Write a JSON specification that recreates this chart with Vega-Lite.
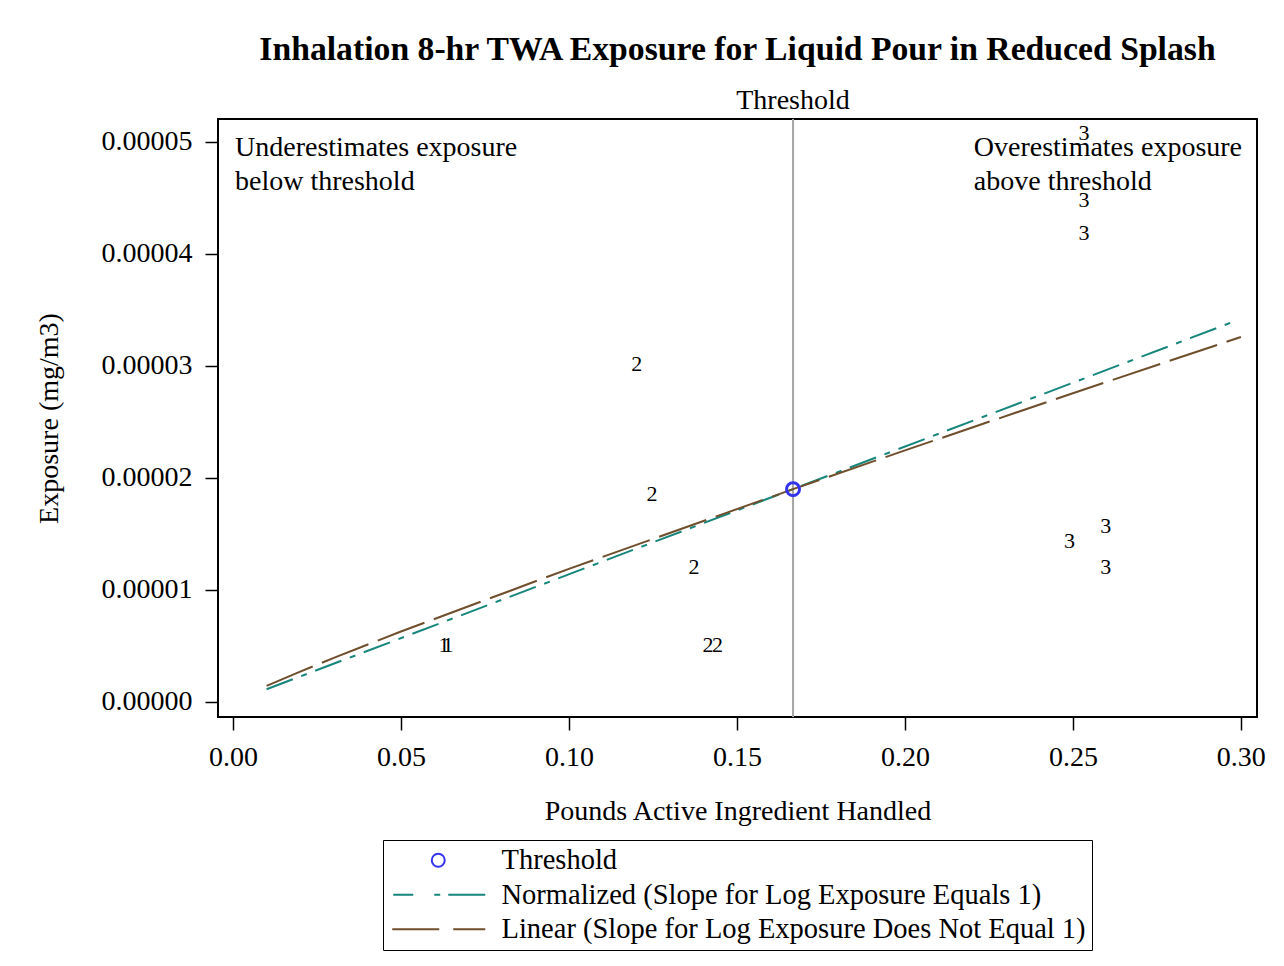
{
  "$schema": "https://vega.github.io/schema/vega-lite/v6.json",
  "width": 1039,
  "height": 598,
  "autosize": "none",
  "padding": {"left": 218, "top": 119, "right": 27, "bottom": 249},
  "background": "white",
  "title": {
    "text": "Inhalation 8-hr TWA Exposure for Liquid Pour in Reduced Splash",
    "font": "Liberation Serif",
    "fontSize": 33.7,
    "fontWeight": "bold",
    "color": "black",
    "frame": "group",
    "anchor": "middle",
    "offset": 20
  },
  "config": {
    "font": "Liberation Serif",
    "view": {"stroke": "black", "strokeWidth": 2},
    "axis": {
      "labelFont": "Liberation Serif",
      "titleFont": "Liberation Serif",
      "labelFontSize": 28,
      "titleFontSize": 28,
      "titleFontWeight": "normal",
      "labelColor": "black",
      "titleColor": "black",
      "tickColor": "black",
      "tickSize": 13,
      "tickWidth": 1.5,
      "domain": false,
      "grid": false
    }
  },
  "datasets": {
    "labels": [
      {"x": 0.0628, "y": 0.00000509, "g": "1"},
      {"x": 0.0640, "y": 0.00000509, "g": "1"},
      {"x": 0.1202, "y": 0.00003018, "g": "2"},
      {"x": 0.1247, "y": 0.00001857, "g": "2"},
      {"x": 0.1372, "y": 0.00001205, "g": "2"},
      {"x": 0.1414, "y": 0.00000509, "g": "2"},
      {"x": 0.1442, "y": 0.00000509, "g": "2"},
      {"x": 0.2533, "y": 0.00005080, "g": "3"},
      {"x": 0.2533, "y": 0.00004480, "g": "3"},
      {"x": 0.2533, "y": 0.00004190, "g": "3"},
      {"x": 0.2490, "y": 0.00001440, "g": "3"},
      {"x": 0.2598, "y": 0.00001570, "g": "3"},
      {"x": 0.2598, "y": 0.00001205, "g": "3"}
    ],
    "normalized": [
      {"x": 0.01, "y": 0.00000114},
      {"x": 0.2982, "y": 0.0000340}
    ],
    "linear": [
      {"x": 0.01, "y": 0.00000144},
      {"x": 0.02, "y": 0.00000271},
      {"x": 0.03, "y": 0.00000394},
      {"x": 0.05, "y": 0.00000629},
      {"x": 0.10, "y": 0.00001189},
      {"x": 0.1667, "y": 0.0000190},
      {"x": 0.20, "y": 0.00002246},
      {"x": 0.25, "y": 0.00002757},
      {"x": 0.30, "y": 0.00003259}
    ],
    "threshold": [
      {"x": 0.1667, "y": 0.0000190, "series": "Threshold"}
    ],
    "legendItems": [
      {"x": -1, "y": 0.00001, "series": "Threshold"},
      {"x": -1, "y": 0.00001, "series": "Normalized (Slope for Log Exposure Equals 1)"},
      {"x": -1, "y": 0.00001, "series": "Linear (Slope for Log Exposure Does Not Equal 1)"}
    ],
    "notes": [
      {"x": 0.0006, "y": 0.00005071, "t": "Underestimates exposure\nbelow threshold"},
      {"x": 0.2205, "y": 0.00005071, "t": "Overestimates exposure\nabove threshold"}
    ],
    "thresholdLabel": [
      {"x": 0.1667, "y": 0.00005205, "t": "Threshold"}
    ]
  },
  "encoding": {
    "x": {
      "field": "x",
      "type": "quantitative",
      "scale": {"domain": [-0.00446, 0.3048], "nice": false, "zero": false},
      "axis": {
        "title": "Pounds Active Ingredient Handled",
        "values": [0, 0.05, 0.1, 0.15, 0.2, 0.25, 0.3],
        "format": ".2f",
        "labelPadding": 13,
        "titlePadding": 26
      }
    },
    "y": {
      "field": "y",
      "type": "quantitative",
      "scale": {"domain": [-0.00000134, 0.00005205], "nice": false, "zero": false},
      "axis": {
        "title": "Exposure (mg/m3)",
        "values": [0, 0.00001, 0.00002, 0.00003, 0.00004, 0.00005],
        "format": ".5f",
        "labelPadding": 13,
        "titlePadding": 38
      }
    }
  },
  "layer": [
    {
      "data": {"name": "threshold"},
      "mark": {"type": "rule", "color": "#a6a6a6", "strokeWidth": 2},
      "encoding": {"y": null}
    },
    {
      "data": {"name": "normalized"},
      "mark": {"type": "line", "color": "#16857b", "strokeWidth": 2, "strokeDash": [28, 9, 6, 9]},
      "encoding": {}
    },
    {
      "data": {"name": "linear"},
      "mark": {"type": "line", "color": "#6f4e2c", "strokeWidth": 2, "strokeDash": [50, 10]},
      "encoding": {}
    },
    {
      "data": {"name": "threshold"},
      "mark": {"type": "point", "shape": "circle", "size": 169, "filled": false, "color": "#3434ee", "strokeWidth": 3, "opacity": 1}
    },
    {
      "data": {"name": "labels"},
      "mark": {"type": "text", "font": "Liberation Serif", "fontSize": 22, "color": "black", "baseline": "middle", "align": "center"},
      "encoding": {"text": {"field": "g"}}
    },
    {
      "data": {"name": "notes"},
      "mark": {"type": "text", "font": "Liberation Serif", "fontSize": 28, "color": "black", "align": "left", "baseline": "top", "lineBreak": "\n", "lineHeight": 34},
      "encoding": {"text": {"field": "t"}}
    },
    {
      "data": {"name": "thresholdLabel"},
      "mark": {"type": "text", "font": "Liberation Serif", "fontSize": 28, "color": "black", "align": "center", "baseline": "alphabetic", "dy": -10, "clip": false},
      "encoding": {"text": {"field": "t"}}
    },
    {
      "data": {"name": "legendItems"},
      "mark": {"type": "point", "filled": false, "clip": true, "strokeWidth": 2, "opacity": 1},
      "encoding": {
        "color": {
          "field": "series",
          "type": "nominal",
          "scale": {
            "domain": ["Threshold", "Normalized (Slope for Log Exposure Equals 1)", "Linear (Slope for Log Exposure Does Not Equal 1)"],
            "range": ["#3434ee", "#16857b", "#6f4e2c"]
          },
          "legend": {
            "title": null,
            "orient": "none",
            "legendX": 165,
            "legendY": 721,
            "direction": "vertical",
            "strokeColor": "black",
            "fillColor": "white",
            "padding": 6,
            "labelFont": "Liberation Serif",
            "labelFontSize": 28.5,
            "labelColor": "black",
            "labelLimit": 0,
            "symbolSize": 100,
            "symbolStrokeWidth": 2,
            "labelOffset": 84,
            "rowPadding": 5.5
          }
        },
        "shape": {
          "field": "series",
          "type": "nominal",
          "scale": {
            "domain": ["Threshold", "Normalized (Slope for Log Exposure Equals 1)", "Linear (Slope for Log Exposure Does Not Equal 1)"],
            "range": [
              "M8.3,0A1.3,1.3,0,1,1,5.7,0A1.3,1.3,0,1,1,8.3,0Z",
              "M-2,0H2M6.2,0H7.4M9,0H16.4",
              "M-2.2,0H7.2M10,0H16.4"
            ]
          }
        }
      }
    }
  ]
}
